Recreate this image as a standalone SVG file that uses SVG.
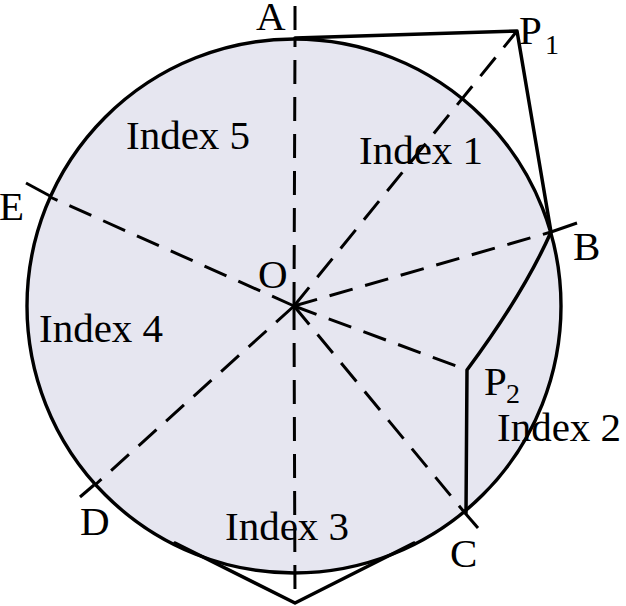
<svg xmlns="http://www.w3.org/2000/svg" width="626" height="606" viewBox="0 0 626 606">
<style>
  .lbl { font-family: "Liberation Serif", "Times New Roman", serif; font-size: 41px; fill: #000; }
  .sub { font-family: "Liberation Serif", "Times New Roman", serif; font-size: 28px; fill: #000; }
  .dash { stroke: #000; stroke-width: 3; stroke-dasharray: 24 13; fill: none; }
  .solid { stroke: #000; stroke-width: 3.5; fill: none; stroke-linejoin: round; stroke-linecap: round; }
  .tick { stroke: #000; stroke-width: 3; fill: none; }
</style>
<rect width="626" height="606" fill="#ffffff"/>
<g id="circle">
  <circle cx="294" cy="306" r="267" fill="#e6e6f0" stroke="#000" stroke-width="3.4"/>
</g>
<g id="connectors">
  <line class="dash" x1="294" y1="306" x2="295" y2="39"/>
  <line class="dash" x1="294" y1="306" x2="295" y2="603"/>
  <line class="dash" x1="294" y1="306" x2="50" y2="197"/>
  <line class="dash" x1="294" y1="306" x2="551" y2="232"/>
  <line class="dash" x1="294" y1="306" x2="465" y2="513"/>
  <line class="dash" x1="294" y1="306" x2="95" y2="485"/>
  <line class="dash" x1="294" y1="306" x2="517" y2="31"/>
  <line class="dash" x1="294" y1="306" x2="467" y2="370"/>
  <line class="tick" x1="295" y1="6" x2="295" y2="30"/>
  <line class="tick" x1="26" y1="183" x2="50" y2="196"/>
  <line class="tick" x1="551" y1="232" x2="577" y2="223"/>
  <line class="tick" x1="465" y1="513" x2="478" y2="528"/>
  <line class="tick" x1="94" y1="485" x2="80" y2="497"/>
  <polyline class="solid" points="295,38 517,31 551,232"/>
  <path class="solid" d="M551,232 Q524,293 467,370 L466,513"/>
  <polyline class="solid" points="175,543 295,603 414,543"/>
</g>
<g id="A"><text class="lbl" x="256" y="30">A</text></g>
<g id="P1"><text class="lbl" x="519" y="44">P</text><text class="sub" x="545" y="54">1</text></g>
<g id="E"><text class="lbl" x="-1" y="220">E</text></g>
<g id="B"><text class="lbl" x="573" y="260">B</text></g>
<g id="O"><text class="lbl" x="258" y="288">O</text></g>
<g id="P2"><text class="lbl" x="484" y="395">P</text><text class="sub" x="506" y="403">2</text></g>
<g id="D"><text class="lbl" x="80" y="535">D</text></g>
<g id="C"><text class="lbl" x="450" y="567">C</text></g>
<g id="index5"><text class="lbl" x="126" y="149">Index 5</text></g>
<g id="index1"><text class="lbl" x="359" y="164">Index 1</text></g>
<g id="index4"><text class="lbl" x="39" y="342">Index 4</text></g>
<g id="index2"><text class="lbl" x="497" y="441">Index 2</text></g>
<g id="index3"><text class="lbl" x="225" y="540">Index 3</text></g>
</svg>
